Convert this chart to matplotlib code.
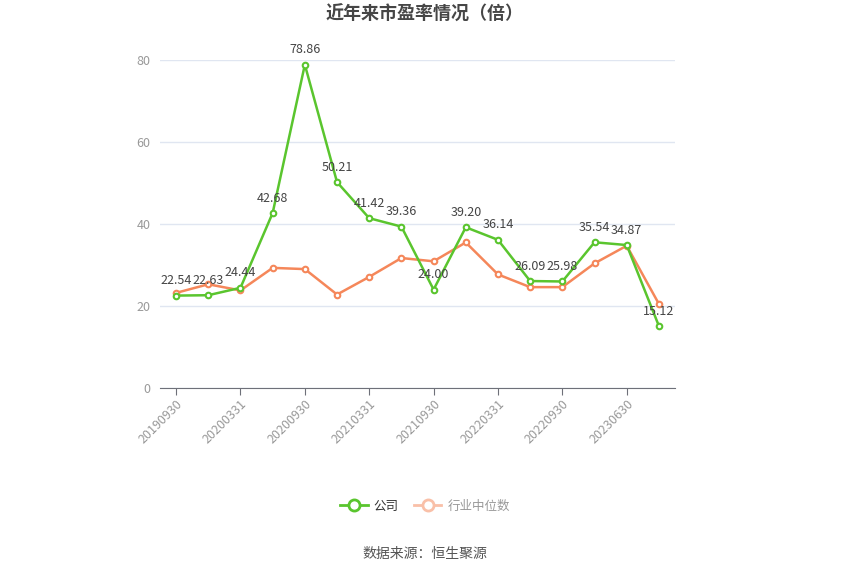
import matplotlib.pyplot as plt
from matplotlib.lines import Line2D

plt.rcParams['font.family'] = ['Noto Sans CJK SC', 'DejaVu Sans']

dates = ['20190930', '20191231', '20200331', '20200630', '20200930', '20201231',
         '20210331', '20210630', '20210930', '20211231', '20220331', '20220630',
         '20220930', '20221231', '20230630', '20230930']
company = [22.54, 22.63, 24.44, 42.68, 78.86, 50.21, 41.42, 39.36,
           24.00, 39.20, 36.14, 26.09, 25.98, 35.54, 34.87, 15.12]
industry = [23.2, 25.3, 23.8, 29.3, 29.0, 22.8, 27.1, 31.7,
            30.9, 35.5, 27.7, 24.6, 24.6, 30.4, 34.7, 20.5]

green = '#5ac52e'
orange = '#f5875a'

fig = plt.figure(figsize=(8.5, 5.75), dpi=100)
ax = fig.add_axes([160 / 850, 1 - 388 / 575, 515 / 850, 328 / 575])

x = list(range(len(dates)))
ax.plot(x, industry, color=orange, lw=1.8, marker='o', ms=4,
        mfc='white', mec=orange, mew=1.5, zorder=3)
ax.plot(x, company, color=green, lw=1.8, marker='o', ms=4,
        mfc='white', mec=green, mew=1.5, zorder=4)

for xi, v in zip(x, company):
    ax.annotate(f'{v:.2f}', (xi, v), xytext=(0, 6), textcoords='offset points',
                ha='center', va='bottom', fontsize=9, color='#444444', zorder=5)

ax.set_xlim(-0.5, 15.5)
ax.set_ylim(0, 80)
ax.set_yticks([0, 20, 40, 60, 80])
ax.grid(axis='y', color='#e0e6f1', lw=1)
ax.set_axisbelow(True)
ax.tick_params(axis='y', length=0, labelsize=9, labelcolor='#999999', pad=7)

ax.set_xticks(x[::2])
ax.set_xticklabels(dates[::2], rotation=45, ha='right', rotation_mode='anchor')
ax.tick_params(axis='x', length=5, color='#6e7079', labelsize=9,
               labelcolor='#999999', pad=2)

for s in ['top', 'right', 'left']:
    ax.spines[s].set_visible(False)
ax.spines['bottom'].set_color('#6e7079')

fig.text(0.5, 1 - 14 / 575, '近年来市盈率情况（倍）', ha='center', va='center',
         fontsize=13, fontweight='bold', color='#464646')

handles = [
    Line2D([0], [0], color=green, lw=2, marker='o', ms=8, mfc='white', mec=green, mew=2),
    Line2D([0], [0], color='#f9c0a8', lw=2, marker='o', ms=8, mfc='white', mec='#f9c0a8', mew=2),
]
leg = fig.legend(handles, ['公司', '行业中位数'], loc='center',
                 bbox_to_anchor=(0.5, 1 - 506 / 575), ncol=2, frameon=False,
                 fontsize=9, handlelength=2.2, columnspacing=1.2, handletextpad=0.5)
leg.get_texts()[0].set_color('#333333')
leg.get_texts()[1].set_color('#999999')

fig.text(0.5, 1 - 554 / 575, '数据来源：恒生聚源', ha='center', va='center',
         fontsize=10, color='#555555')

plt.savefig('out.png')
